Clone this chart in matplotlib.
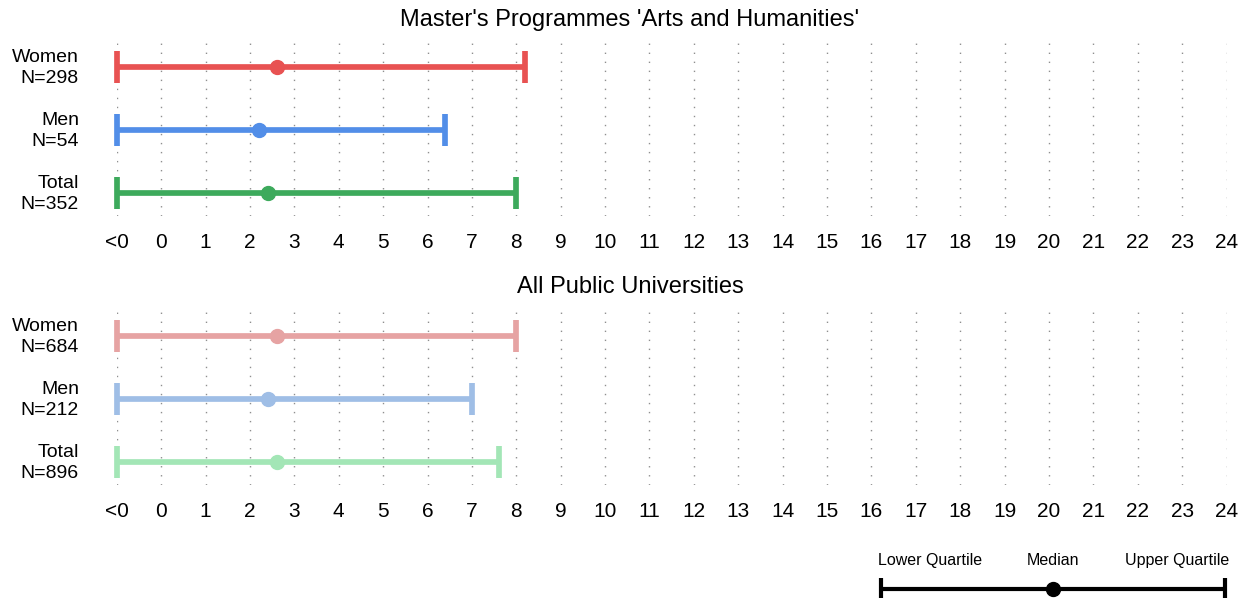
import matplotlib
matplotlib.use("Agg")
import matplotlib.pyplot as plt
from matplotlib.transforms import blended_transform_factory

plt.rcParams['font.family'] = ['Liberation Sans', 'DejaVu Sans']

# ---- data ----
tick_values = list(range(-1, 25))
tick_labels = ["<0"] + [str(i) for i in range(0, 25)]

groups = ["Women", "Men", "Total"]

top_title = "Master's Programmes 'Arts and Humanities'"
top_n = [298, 54, 352]
top_lower = [-1, -1, -1]
top_median = [2.6, 2.2, 2.4]
top_upper = [8.2, 6.4, 8.0]
top_colors = ["#E85252", "#528EE8", "#3DAA5C"]

bot_title = "All Public Universities"
bot_n = [684, 212, 896]
bot_lower = [-1, -1, -1]
bot_median = [2.6, 2.4, 2.6]
bot_upper = [8.0, 7.0, 7.6]
bot_colors = ["#E6A3A3", "#9FBEE6", "#A3E6B6"]

legend_labels = ["Lower Quartile", "Median", "Upper Quartile"]

W, H = 1248, 598
fig = plt.figure(figsize=(W / 100, H / 100), dpi=100)


def px_axes(x0, y0, x1, y1):
    return fig.add_axes([x0 / W, 1 - y1 / H, (x1 - x0) / W, (y1 - y0) / H])


def panel(ytop, ybot, title, title_y, n, lo, med, up, colors):
    ax = px_axes(116.7, ytop, 1226.7, ybot)
    ax.set_xlim(-1, 24)
    ax.set_ylim(2.365, -0.381)
    for v in tick_values:
        ax.axvline(v, color="#8f8f8f", lw=1.0, ls=(0, (1, 5.5)), zorder=0)
    trans = blended_transform_factory(fig.transFigure, ax.transData)
    for i, g in enumerate(groups):
        c = colors[i]
        ax.plot([lo[i], up[i]], [i, i], color=c, lw=4.1, solid_capstyle="butt",
                zorder=2, clip_on=False)
        for xv in (lo[i], up[i]):
            ax.plot([xv, xv], [i - 0.254, i + 0.254], color=c, lw=4.1,
                    solid_capstyle="butt", zorder=2, clip_on=False)
        ax.plot([med[i]], [i], "o", color=c, ms=10, zorder=3, clip_on=False)
        ax.text(79 / W, i + 0.02, f"{g}\nN={n[i]}", transform=trans, ha="right",
                va="center", fontsize=14, linespacing=1.32)
    ax.set_xticks(tick_values)
    ax.set_xticklabels(tick_labels, fontsize=15)
    ax.tick_params(axis="x", length=0, pad=12.5)
    ax.set_yticks([])
    for s in ax.spines.values():
        s.set_visible(False)
    fig.text(630 / W, 1 - title_y / H, title, ha="center", va="center", fontsize=17)
    return ax


panel(43, 216, top_title, 20, top_n, top_lower, top_median, top_upper, top_colors)
panel(312, 485, bot_title, 287, bot_n, bot_lower, bot_median, bot_upper, bot_colors)

# legend
lax = px_axes(881, 540, 1225, 598)
lax.set_xlim(0, 1)
lax.set_ylim(0, 58)
lax.axis("off")
ly = 58 - (589 - 540)
lax.plot([0, 1], [ly, ly], color="black", lw=3.0, solid_capstyle="butt", clip_on=False)
for xv in (0.0, 1.0):
    lax.plot([xv, xv], [ly - 11, ly + 11], color="black", lw=3.0,
             solid_capstyle="butt", clip_on=False)
lax.plot([0.5], [ly], "o", color="black", ms=10, clip_on=False)
base_y = 1 - 565 / H
fig.text(878 / W, base_y, legend_labels[0], ha="left", va="baseline", fontsize=11.5)
fig.text(1053 / W, base_y, legend_labels[1], ha="center", va="baseline", fontsize=11.5)
fig.text(1229 / W, base_y, legend_labels[2], ha="right", va="baseline", fontsize=11.5)

fig.savefig("out.png", dpi=100)
